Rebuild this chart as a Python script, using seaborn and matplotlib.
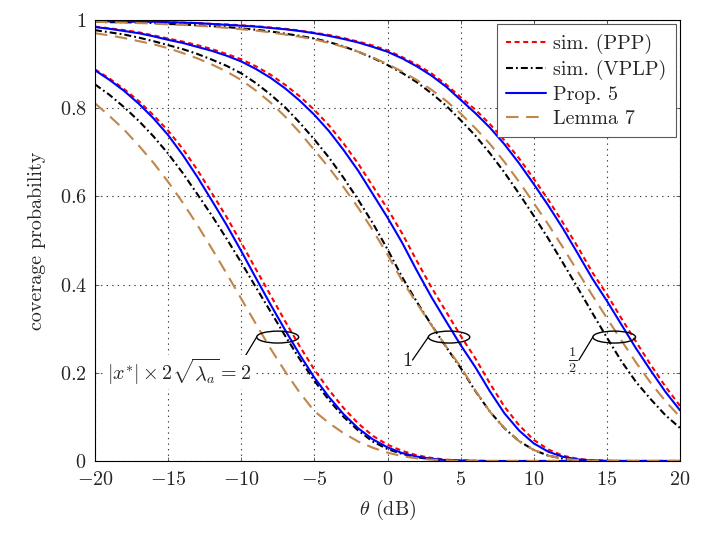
import numpy as np
import pandas as pd
import matplotlib
matplotlib.use("Agg")
import matplotlib.pyplot as plt
from matplotlib.patches import Ellipse
from matplotlib.lines import Line2D
import seaborn as sns

# ---------------- data (1 dB steps) ----------------
theta_db = list(range(-20, 21))

# group |x*| x 2 sqrt(lambda_a) = 2
ppp_2 = [0.888, 0.867, 0.843, 0.816, 0.784, 0.749, 0.708, 0.660, 0.607, 0.553,
         0.495, 0.435, 0.376, 0.317, 0.260, 0.207, 0.161, 0.120, 0.085, 0.057,
         0.037, 0.023, 0.013, 0.007, 0.003, 0.001, 0.0005, 0, 0, 0,
         0, 0, 0, 0, 0, 0, 0, 0, 0, 0, 0]
vplp_2 = [0.854, 0.830, 0.802, 0.771, 0.736, 0.697, 0.653, 0.605, 0.556, 0.504,
          0.450, 0.394, 0.339, 0.284, 0.231, 0.182, 0.138, 0.100, 0.069, 0.044,
          0.027, 0.016, 0.0085, 0.004, 0.0018, 0.0007, 0, 0, 0, 0,
          0, 0, 0, 0, 0, 0, 0, 0, 0, 0, 0]
prop_2 = [0.886, 0.864, 0.839, 0.810, 0.777, 0.739, 0.694, 0.644, 0.590, 0.535,
          0.476, 0.415, 0.355, 0.297, 0.241, 0.189, 0.145, 0.106, 0.074, 0.049,
          0.031, 0.018, 0.010, 0.005, 0.002, 0.001, 0.0003, 0, 0, 0,
          0, 0, 0, 0, 0, 0, 0, 0, 0, 0, 0]
lem_2 = [0.811, 0.782, 0.751, 0.715, 0.676, 0.633, 0.586, 0.535, 0.481, 0.425,
         0.368, 0.311, 0.255, 0.203, 0.155, 0.113, 0.086, 0.063, 0.044, 0.030,
         0.019, 0.011, 0.006, 0.003, 0.0016, 0, 0, 0, 0, 0,
         0, 0, 0, 0, 0, 0, 0, 0, 0, 0, 0]

# group = 1
ppp_1 = [0.985, 0.981, 0.977, 0.972, 0.965, 0.958, 0.951, 0.943, 0.934, 0.923,
         0.911, 0.895, 0.876, 0.853, 0.827, 0.796, 0.761, 0.720, 0.674, 0.623,
         0.572, 0.516, 0.454, 0.394, 0.339, 0.284, 0.233, 0.176, 0.123, 0.081,
         0.048, 0.026, 0.012, 0.005, 0.0017, 0.0005, 0, 0, 0, 0, 0]
vplp_1 = [0.977, 0.972, 0.967, 0.960, 0.952, 0.943, 0.934, 0.923, 0.910, 0.896,
          0.879, 0.857, 0.831, 0.802, 0.767, 0.729, 0.688, 0.642, 0.592, 0.539,
          0.480, 0.417, 0.361, 0.309, 0.259, 0.211, 0.159, 0.112, 0.074, 0.045,
          0.025, 0.012, 0.0054, 0.002, 0.0006, 0, 0, 0, 0, 0, 0]
prop_1 = [0.984, 0.980, 0.975, 0.970, 0.963, 0.955, 0.948, 0.939, 0.930, 0.919,
          0.906, 0.889, 0.869, 0.845, 0.817, 0.785, 0.748, 0.705, 0.658, 0.605,
          0.552, 0.495, 0.432, 0.372, 0.317, 0.263, 0.213, 0.158, 0.108, 0.069,
          0.040, 0.021, 0.0095, 0.0037, 0.0012, 0.0003, 0, 0, 0, 0, 0]
lem_1 = [0.970, 0.965, 0.959, 0.952, 0.945, 0.936, 0.925, 0.913, 0.899, 0.883,
         0.864, 0.840, 0.813, 0.781, 0.745, 0.705, 0.665, 0.621, 0.574, 0.523,
         0.468, 0.409, 0.358, 0.308, 0.260, 0.214, 0.160, 0.112, 0.074, 0.045,
         0.025, 0.012, 0.0054, 0.002, 0.0006, 0, 0, 0, 0, 0, 0]

# group = 1/2
ppp_h = [0.998, 0.997, 0.997, 0.996, 0.996, 0.995, 0.994, 0.993, 0.991, 0.990,
         0.988, 0.986, 0.983, 0.980, 0.976, 0.971, 0.966, 0.959, 0.951, 0.942,
         0.931, 0.916, 0.899, 0.879, 0.854, 0.825, 0.797, 0.764, 0.727, 0.686,
         0.640, 0.592, 0.540, 0.486, 0.428, 0.378, 0.323, 0.270, 0.218, 0.169,
         0.125]
vplp_h = [0.996, 0.995, 0.995, 0.994, 0.993, 0.991, 0.990, 0.988, 0.986, 0.984,
          0.981, 0.978, 0.974, 0.969, 0.964, 0.958, 0.950, 0.940, 0.928, 0.914,
          0.898, 0.880, 0.859, 0.834, 0.806, 0.773, 0.738, 0.698, 0.654, 0.606,
          0.556, 0.504, 0.449, 0.393, 0.336, 0.280, 0.226, 0.179, 0.140, 0.104,
          0.075]
prop_h = [0.998, 0.997, 0.997, 0.996, 0.996, 0.995, 0.994, 0.993, 0.991, 0.989,
          0.987, 0.985, 0.982, 0.979, 0.975, 0.970, 0.964, 0.957, 0.949, 0.939,
          0.928, 0.913, 0.895, 0.874, 0.849, 0.819, 0.789, 0.756, 0.718, 0.675,
          0.628, 0.579, 0.527, 0.471, 0.414, 0.363, 0.309, 0.255, 0.205, 0.157,
          0.115]
lem_h = [0.996, 0.995, 0.994, 0.993, 0.992, 0.990, 0.989, 0.987, 0.985, 0.982,
         0.979, 0.976, 0.972, 0.967, 0.962, 0.956, 0.948, 0.939, 0.928, 0.915,
         0.900, 0.883, 0.864, 0.842, 0.817, 0.788, 0.755, 0.719, 0.678, 0.633,
         0.585, 0.536, 0.484, 0.430, 0.376, 0.324, 0.273, 0.223, 0.177, 0.136,
         0.100]

legend_labels = ["sim. (PPP)", "sim. (VPLP)", "Prop. 5", "Lemma 7"]
group_labels = [r"$|x^{*}|\times 2\sqrt{\lambda_a}=2$", r"$1$", r"$\frac{1}{2}$"]
xticks = [-20, -15, -10, -5, 0, 5, 10, 15, 20]
yticks = [0, 0.2, 0.4, 0.6, 0.8, 1.0]
ytick_labels = ["0", "0.2", "0.4", "0.6", "0.8", "1"]

# ---------------- style ----------------
sns.set_style("ticks")
plt.rcParams["font.family"] = ["serif"]
plt.rcParams["font.serif"] = ["cmr10", "DejaVu Serif"]
plt.rcParams["mathtext.fontset"] = "cm"
plt.rcParams["axes.formatter.use_mathtext"] = True
plt.rcParams["lines.scale_dashes"] = False

FS = 14.5

fig = plt.figure(figsize=(7.05, 5.35), dpi=100)
ax = fig.add_axes([95 / 705, 1 - 461 / 535, 585 / 705, 441 / 535])

styles = {
    "ppp": dict(color="#ff0000", linestyle=(0, (3.6, 2.6))),
    "vplp": dict(color="black", linestyle=(0, (5.0, 2.2, 1.3, 2.2))),
    "prop": dict(color="#0000ff", linestyle="-"),
    "lem": dict(color="#c2854a", linestyle=(0, (9.0, 5.5))),
}
groups = [
    (ppp_2, vplp_2, prop_2, lem_2),
    (ppp_1, vplp_1, prop_1, lem_1),
    (ppp_h, vplp_h, prop_h, lem_h),
]
keys = ["ppp", "vplp", "prop", "lem"]
for g in groups:
    for k, vals in zip(keys, g):
        df = pd.DataFrame({"theta": theta_db, "pc": vals})
        sns.lineplot(data=df, x="theta", y="pc", ax=ax, lw=1.5, **styles[k])

ax.set_xlim(-20, 20)
ax.set_ylim(0, 1)
ax.set_xticks(xticks)
ax.set_xticklabels([f"${t}$" for t in xticks])
ax.set_yticks(yticks)
ax.set_yticklabels([f"${t}$" for t in ytick_labels])
ax.tick_params(direction="in", top=True, right=True, length=3, width=0.6,
               labelsize=FS, color="0.3")
ax.tick_params(axis="x", pad=7)
ax.tick_params(axis="y", pad=6)
ax.grid(True, color="0.25", linestyle=(0, (1, 3)), lw=0.8)
for s in ax.spines.values():
    s.set_linewidth(0.8)
    s.set_color("black")

ax.set_xlabel(r"$\theta$ (dB)", fontsize=FS)
ax.set_ylabel("coverage probability", fontsize=FS)
ax.xaxis.set_label_coords(0.5, -0.11)
ax.yaxis.set_label_coords(-0.099, 0.5)
ax.xaxis.label.set_va("center")
ax.yaxis.label.set_va("center")

# ellipses and labels
ell = [(-7.51, 2.87), (4.21, 2.83), (15.5, 2.92)]
for cx, w in ell:
    ax.add_patch(Ellipse((cx, 0.281), w, 0.027, fill=False, lw=1.0, color="black", zorder=5))
ax.plot([-9.89, -8.95], [0.229, 0.281], color="black", lw=0.9, zorder=5)
ax.plot([1.71, 2.79], [0.229, 0.281], color="black", lw=0.9, zorder=5)
ax.plot([13.09, 14.04], [0.229, 0.281], color="black", lw=0.9, zorder=5)
ax.text(-9.31, 0.202, group_labels[0], ha="right", va="center", fontsize=FS,
        bbox=dict(facecolor="white", edgecolor="none", pad=1.0), zorder=6)
ax.text(1.7, 0.226, group_labels[1], ha="right", va="center", fontsize=FS, zorder=6)
ax.text(12.68, 0.228, group_labels[2], ha="center", va="center", fontsize=FS, zorder=6)

handles = [Line2D([], [], lw=1.5, **styles[k]) for k in keys]
leg = ax.legend(handles, legend_labels, loc="upper right", fontsize=FS,
                fancybox=False, framealpha=1, edgecolor="0.35",
                borderaxespad=0.22, handlelength=2.0, handletextpad=0.35,
                labelspacing=0.3, borderpad=0.45)
leg.get_frame().set_linewidth(0.8)

fig.savefig("out.png", dpi=100)
